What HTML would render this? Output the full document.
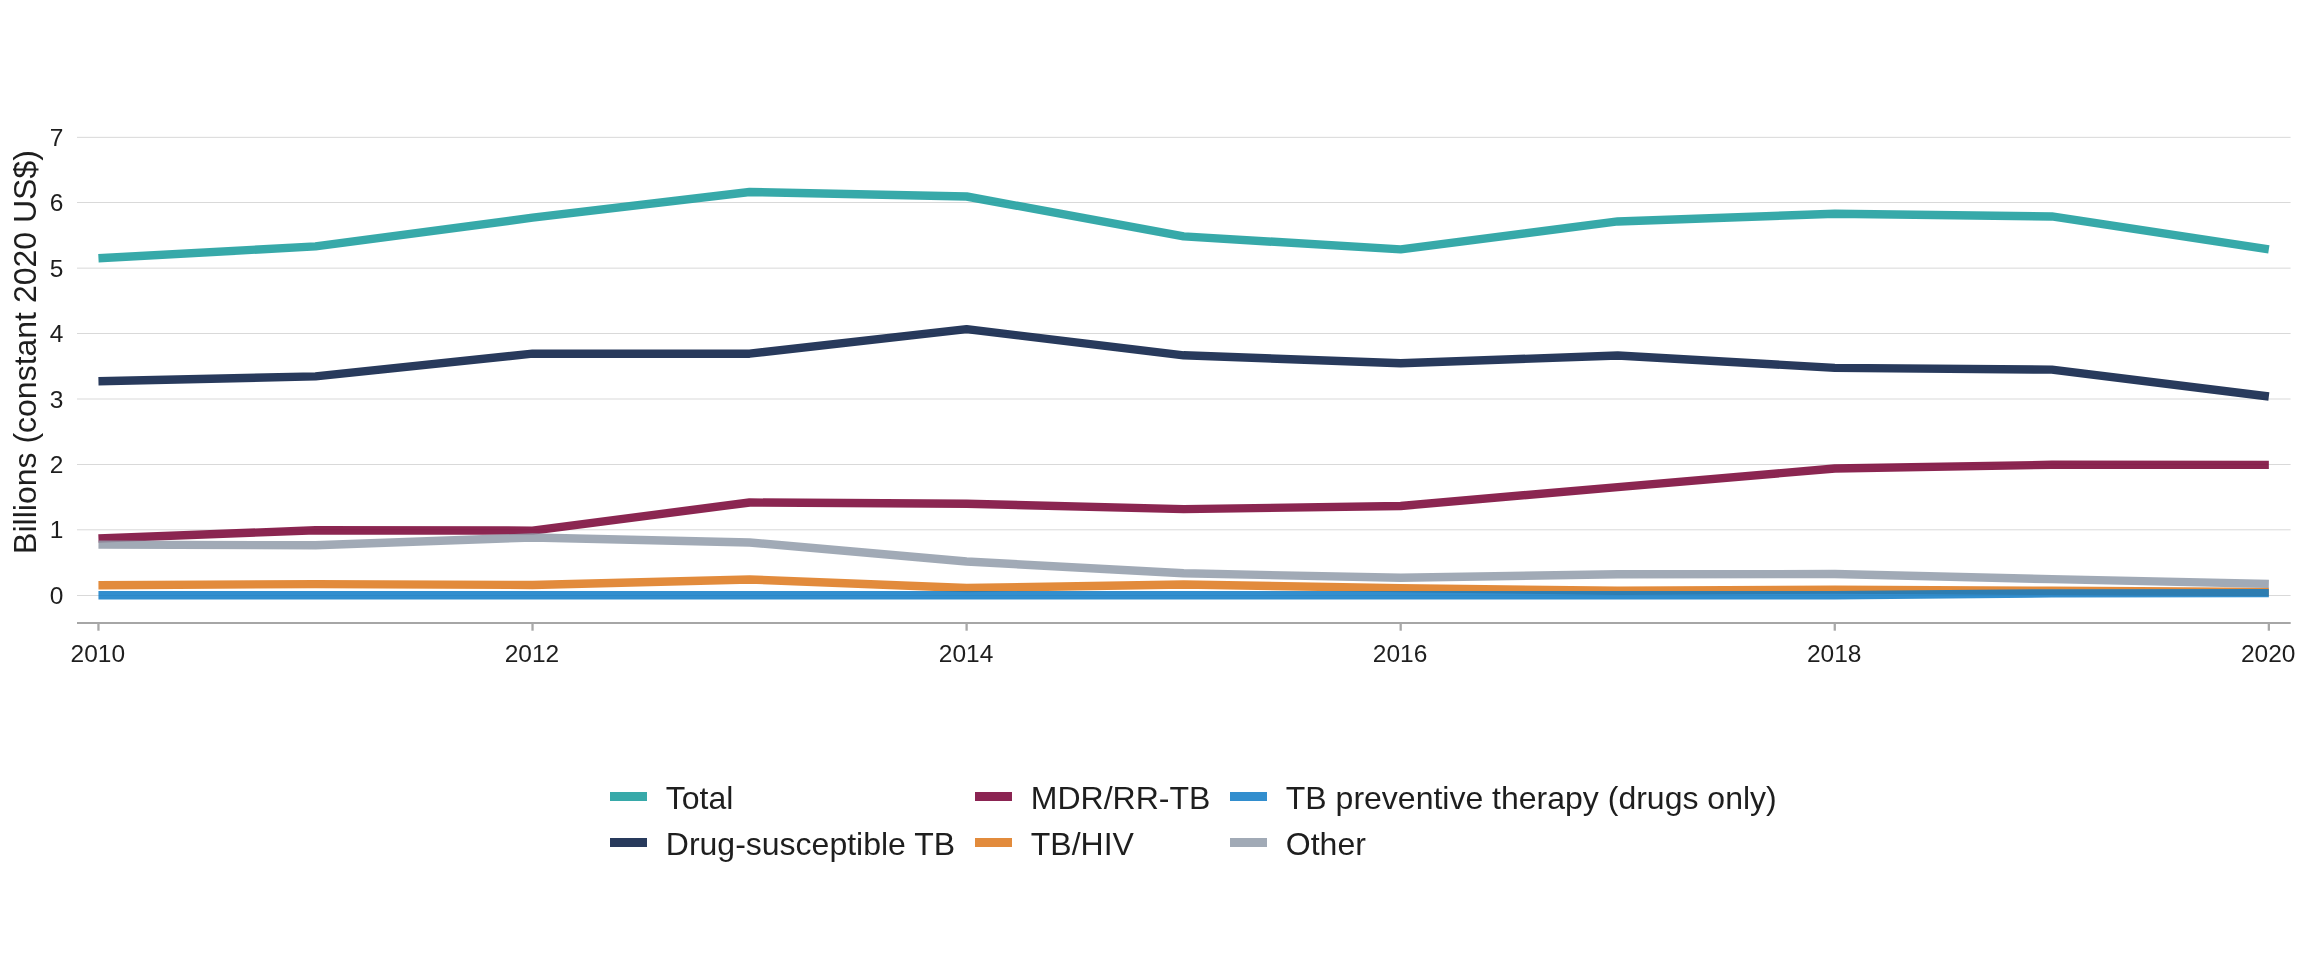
<!DOCTYPE html>
<html><head><meta charset="utf-8"><title>TB funding by intervention area, 2010-2020</title>
<style>
html,body{margin:0;padding:0;background:#fff;}
body{width:2304px;height:960px;overflow:hidden;}
svg{display:block;will-change:transform;}
text{font-family:"Liberation Sans",Arial,Helvetica,sans-serif;fill:#1e1e1e;}
</style></head><body>
<svg width="2304" height="960" viewBox="0 0 2304 960">
<rect width="2304" height="960" fill="#fff"/>
<g stroke="#d9d9d9" stroke-width="1" fill="none">
<line x1="77" x2="2290.6" y1="595.50" y2="595.50"/>
<line x1="77" x2="2290.6" y1="529.80" y2="529.80"/>
<line x1="77" x2="2290.6" y1="464.50" y2="464.50"/>
<line x1="77" x2="2290.6" y1="399.00" y2="399.00"/>
<line x1="77" x2="2290.6" y1="333.50" y2="333.50"/>
<line x1="77" x2="2290.6" y1="268.15" y2="268.15"/>
<line x1="77" x2="2290.6" y1="202.50" y2="202.50"/>
<line x1="77" x2="2290.6" y1="137.35" y2="137.35"/>
</g>
<g fill="none" stroke-width="8.4" stroke-linejoin="round" stroke-linecap="butt" stroke-opacity="0.85">
<polyline points="98.45,258.30 315.49,246.40 532.53,217.70 749.57,192.00 966.61,196.50 1183.65,236.40 1400.69,249.40 1617.73,221.45 1834.77,213.80 2051.81,216.45 2268.85,249.30" stroke="#149a9a"/>
<polyline points="98.45,381.30 315.49,376.40 532.53,353.65 749.57,353.70 966.61,329.20 1183.65,355.30 1400.69,363.30 1617.73,355.45 1834.77,367.90 2051.81,369.60 2268.85,396.50" stroke="#02173f"/>
<polyline points="98.45,538.50 315.49,530.30 532.53,530.60 749.57,502.50 966.61,503.80 1183.65,509.15 1400.69,505.95 1617.73,487.10 1834.77,468.50 2051.81,464.80 2268.85,464.85" stroke="#770033"/>
<polyline points="98.45,585.20 315.49,584.10 532.53,585.00 749.57,579.45 966.61,588.00 1183.65,584.50 1400.69,588.10 1617.73,590.70 1834.77,589.60 2051.81,590.80 2268.85,592.00" stroke="#dd771a"/>
<polyline points="98.45,595.25 315.49,595.25 532.53,595.25 749.57,595.25 966.61,595.25 1183.65,595.25 1400.69,595.25 1617.73,595.25 1834.77,595.20 2051.81,593.40 2268.85,593.15" stroke="#0e7ac5"/>
<polyline points="98.45,544.60 315.49,545.30 532.53,537.50 749.57,542.50 966.61,561.50 1183.65,573.30 1400.69,577.80 1617.73,574.30 1834.77,574.00 2051.81,579.15 2268.85,583.90" stroke="#909ba9"/>
</g>
<line x1="77" x2="2290.7" y1="623" y2="623" stroke="#a6a6a6" stroke-width="2.1"/>
<g stroke="#a8a8a8" stroke-width="2.3">
<line x1="98.45" x2="98.45" y1="623" y2="630.7"/>
<line x1="532.53" x2="532.53" y1="623" y2="630.7"/>
<line x1="966.61" x2="966.61" y1="623" y2="630.7"/>
<line x1="1400.69" x2="1400.69" y1="623" y2="630.7"/>
<line x1="1834.77" x2="1834.77" y1="623" y2="630.7"/>
<line x1="2268.85" x2="2268.85" y1="623" y2="630.7"/>
</g>
<g font-size="24.5" text-anchor="end">
<text x="63.5" y="604.10">0</text>
<text x="63.5" y="538.40">1</text>
<text x="63.5" y="473.10">2</text>
<text x="63.5" y="407.60">3</text>
<text x="63.5" y="342.10">4</text>
<text x="63.5" y="276.75">5</text>
<text x="63.5" y="211.10">6</text>
<text x="63.5" y="145.95">7</text>
</g>
<g font-size="24.5" text-anchor="middle">
<text x="97.85" y="662">2010</text>
<text x="531.93" y="662">2012</text>
<text x="966.01" y="662">2014</text>
<text x="1400.09" y="662">2016</text>
<text x="1834.17" y="662">2018</text>
<text x="2268.25" y="662">2020</text>
</g>
<text transform="translate(35.9,352.0) rotate(-90)" font-size="32" text-anchor="middle">Billions (constant 2020 US$)</text>
<g font-size="32">
<rect x="610" y="792.00" width="37" height="9" fill="#37a9a9"/>
<text x="665.8" y="809.00">Total</text>
<rect x="610" y="838.00" width="37" height="9" fill="#283a5c"/>
<text x="665.8" y="855.00">Drug-susceptible TB</text>
<rect x="975" y="792.00" width="37" height="9" fill="#8b2452"/>
<text x="1030.8" y="809.00">MDR/RR-TB</text>
<rect x="975" y="838.00" width="37" height="9" fill="#e28b3c"/>
<text x="1030.8" y="855.00">TB/HIV</text>
<rect x="1230" y="792.00" width="37" height="9" fill="#328ece"/>
<text x="1285.8" y="809.00">TB preventive therapy (drugs only)</text>
<rect x="1230" y="838.00" width="37" height="9" fill="#a1aab6"/>
<text x="1285.8" y="855.00">Other</text>
</g>
</svg>
</body></html>
